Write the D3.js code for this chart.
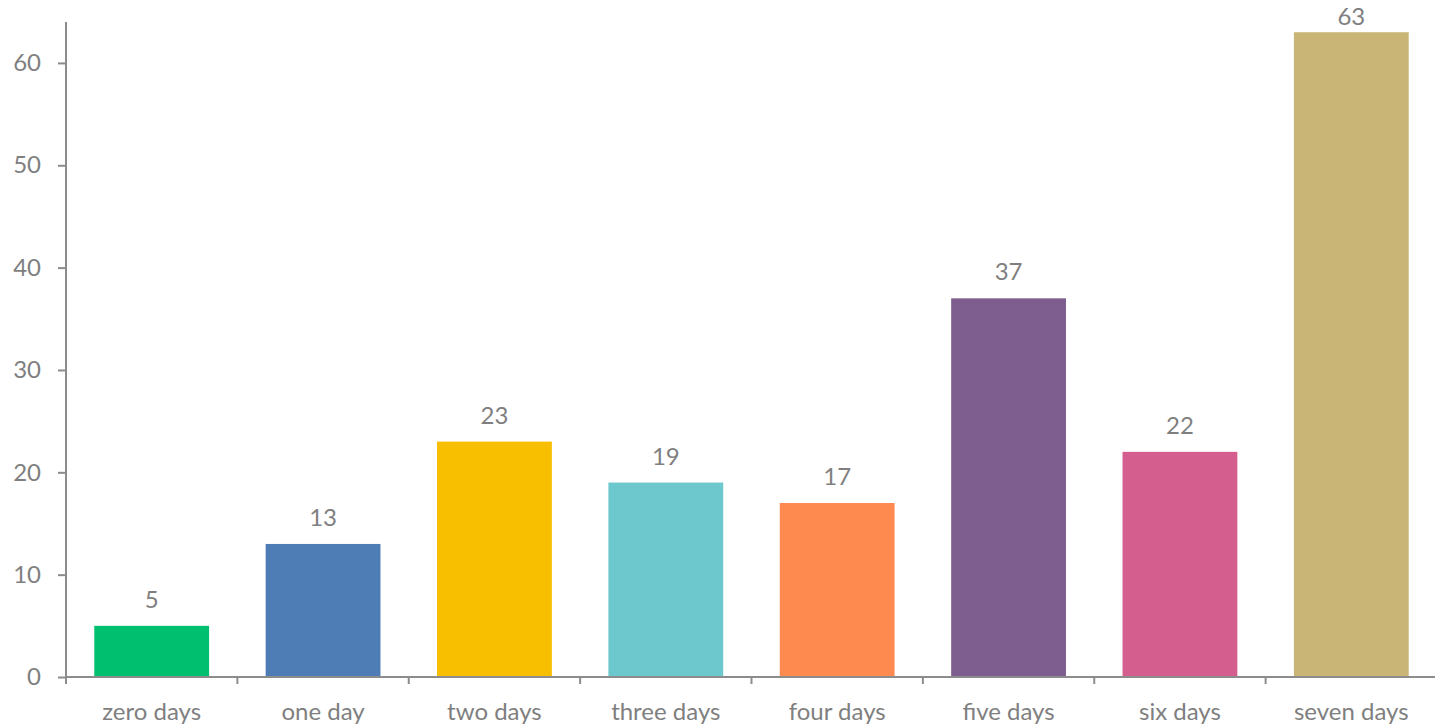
<!DOCTYPE html>
<html><head><meta charset="utf-8">
<script src="https://cdn.jsdelivr.net/npm/d3@7"></script>
<style>body{margin:0;background:#fff;}svg{display:block;font-family:Lato,"Open Sans",sans-serif;}</style>
</head><body>
<svg id="c" width="1435" height="727"></svg>
<script>
const categories = ["zero days","one day","two days","three days","four days","five days","six days","seven days"];
const values = [5,13,23,19,17,37,22,63];
const colors = ["#00BF6F","#4E7DB5","#F8BE00","#6CC8CC","#FF8A50","#7E5E8E","#D45F8E","#C9B677"];
const yTicks = [0,10,20,30,40,50,60];

(function(){
const svg = d3.select("#c");
const mLeft = 66, mRight = 1437, mTop = 22, mBottom = 677;
const x = d3.scaleBand().domain(categories).range([mLeft, mRight]).paddingInner(0.33).paddingOuter(0.165);
const xb = d3.scaleBand().domain(categories).range([mLeft, mRight]);
const y = d3.scaleLinear().domain([0, 64]).range([mBottom, mTop]);
const axisColor = "#8c8c8c", textColor = "#7f7f7f", fs = 24;

svg.selectAll("rect.bar").data(values).enter().append("rect")
  .attr("x", (d,i)=>x(categories[i])).attr("width", x.bandwidth())
  .attr("y", d=>y(d)).attr("height", d=>mBottom-y(d))
  .attr("fill", (d,i)=>colors[i]);

svg.selectAll("text.val").data(values).enter().append("text")
  .attr("x", (d,i)=>x(categories[i])+x.bandwidth()/2).attr("y", d=>Math.max(y(d)-18, 25))
  .attr("text-anchor","middle").attr("fill",textColor).attr("font-size",fs).text(d=>d);

const ya = svg.append("g").attr("transform",`translate(${mLeft},0)`)
  .call(d3.axisLeft(y).tickValues(yTicks).tickSize(8).tickPadding(17));
ya.select(".domain").remove();
ya.append("line").attr("x1",0).attr("x2",0).attr("y1",mTop).attr("y2",mBottom+6).attr("stroke",axisColor).attr("stroke-width",2);
ya.selectAll(".tick line").attr("stroke",axisColor).attr("stroke-width",2);
ya.selectAll(".tick text").attr("fill",textColor).attr("font-size",fs).attr("font-family","Lato,'Open Sans',sans-serif");

svg.append("line").attr("x1",mLeft).attr("x2",mRight).attr("y1",mBottom).attr("y2",mBottom).attr("stroke",axisColor).attr("stroke-width",2);
const bounds = categories.map(c=>xb(c)).concat([mRight]);
svg.selectAll("line.xt").data(bounds).enter().append("line")
  .attr("x1",d=>d).attr("x2",d=>d).attr("y1",mBottom).attr("y2",mBottom+7)
  .attr("stroke",axisColor).attr("stroke-width",2);
svg.selectAll("text.cat").data(categories).enter().append("text")
  .attr("x",d=>xb(d)+xb.bandwidth()/2).attr("y",720)
  .attr("text-anchor","middle").attr("fill",textColor).attr("font-size",fs).text(d=>d);
})();
</script>
</body></html>
